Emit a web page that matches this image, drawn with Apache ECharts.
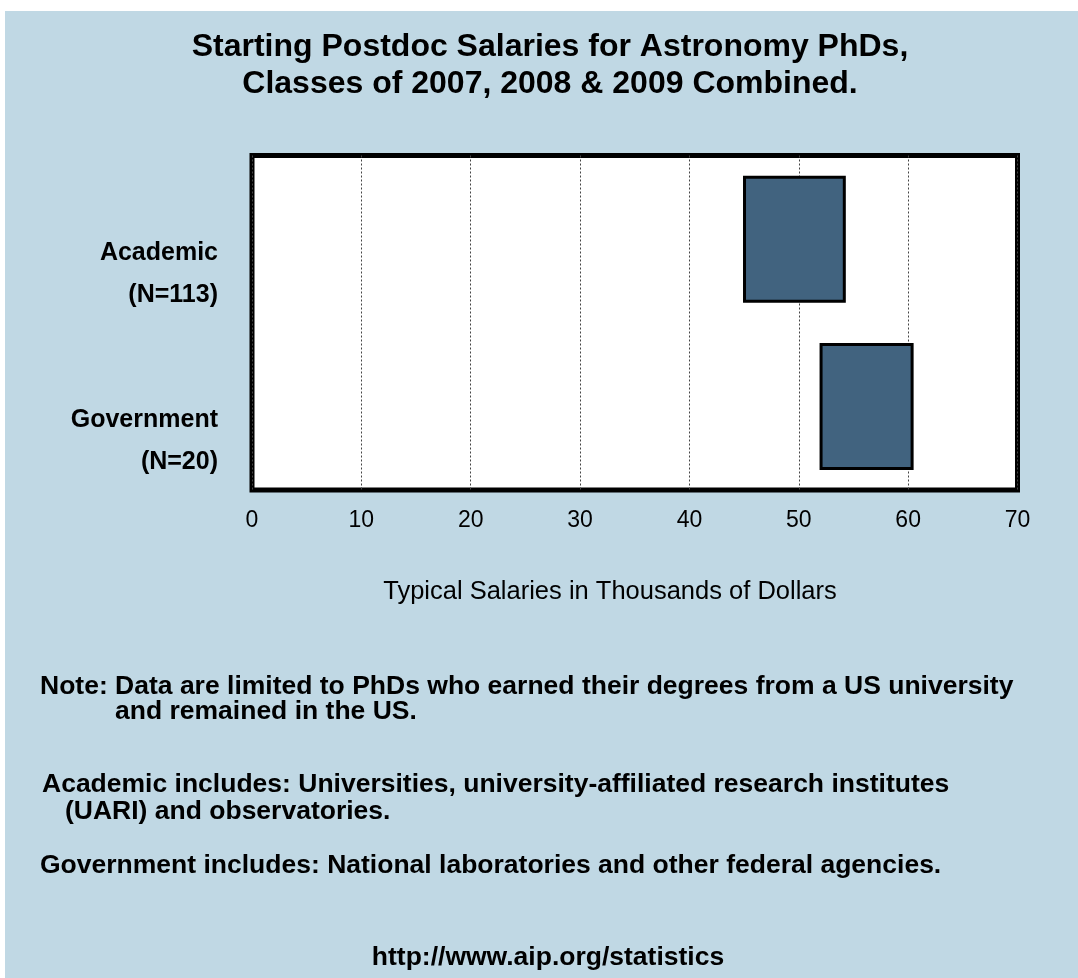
<!doctype html>
<html lang="en">
<head>
    <meta charset="utf-8">
    <title>Starting Postdoc Salaries for Astronomy PhDs</title>
    <style>
        html, body {margin: 0; padding: 0; background: #fff;}
        #chart {position: absolute; left: 5px; top: 11px; width: 1073px; height: 967px;}
    </style>
</head>
<body>
<div id="chart"></div>

<script src="https://cdn.jsdelivr.net/npm/echarts@6/dist/echarts.min.js"></script>
<script>
    // data (thousands of dollars)
    const categories = ['Academic', 'Government'];
    const counts = [113, 20];
    const lowSalary = [44.9, 51.9];
    const highSalary = [54.3, 60.5];
    const xTicks = [0, 10, 20, 30, 40, 50, 60, 70];

    const spanSalary = highSalary.map((h, i) => +(h - lowSalary[i]).toFixed(1));

    const font = 'Liberation Sans, Arial, sans-serif';
    const chart = echarts.init(document.getElementById('chart'));

    chart.setOption({
        backgroundColor: '#c0d8e4',
        textStyle: {fontFamily: font, color: '#000'},
        animation: false,
        grid: {
            left: 247, top: 144.5, right: 60.5, bottom: 488,
            show: true, backgroundColor: '#fff',
            borderColor: '#000', borderWidth: 5
        },
        xAxis: {
            type: 'value',
            min: xTicks[0], max: xTicks[xTicks.length - 1], interval: 10,
            axisLine: {show: false},
            axisTick: {show: false},
            axisLabel: {fontSize: 23, color: '#000', margin: 19, fontFamily: font},
            splitLine: {lineStyle: {type: [2, 2], color: '#444', width: 1}}
        },
        yAxis: {
            type: 'category',
            inverse: true,
            data: categories,
            axisLine: {show: false},
            axisTick: {show: false},
            splitLine: {show: false},
            axisLabel: {
                formatter: (v, i) => '{s| }\n{b|' + v + '}\n{b|(N=' + counts[i] + ')}',
                align: 'right', margin: 34,
                rich: {
                    s: {lineHeight: 70, fontSize: 10},
                    b: {fontSize: 25, fontWeight: 'bold', color: '#000', fontFamily: font, lineHeight: 42, align: 'right'}
                }
            }
        },
        series: [
            {
                name: 'base', type: 'bar', stack: 'range',
                data: lowSalary, barWidth: 127,
                itemStyle: {color: 'transparent'},
                silent: true
            },
            {
                name: 'range', type: 'bar', stack: 'range',
                data: spanSalary, barWidth: 127,
                itemStyle: {color: '#41637f', borderColor: '#000', borderWidth: 3}
            }
        ],
        graphic: [
            {type: 'text', x: 545, y: 55, style: {text: 'Starting Postdoc Salaries for Astronomy PhDs,\nClasses of 2007, 2008 & 2009 Combined.', font: 'bold 32px ' + font, lineHeight: 37, fill: '#000', align: 'center', verticalAlign: 'middle'}},
            {type: 'text', x: 605, y: 581, style: {text: 'Typical Salaries in Thousands of Dollars', font: '25.5px ' + font, fill: '#000', align: 'center', verticalAlign: 'middle'}},
            {type: 'text', x: 35, y: 676, style: {text: 'Note: Data are limited to PhDs who earned their degrees from a US university', font: 'bold 26.5px ' + font, fill: '#000', verticalAlign: 'middle'}},
            {type: 'text', x: 110, y: 701, style: {text: 'and remained in the US.', font: 'bold 26.5px ' + font, fill: '#000', verticalAlign: 'middle'}},
            {type: 'text', x: 37, y: 774, style: {text: 'Academic includes: Universities, university-affiliated research institutes', font: 'bold 26.5px ' + font, fill: '#000', verticalAlign: 'middle'}},
            {type: 'text', x: 60, y: 801, style: {text: '(UARI) and observatories.', font: 'bold 26.5px ' + font, fill: '#000', verticalAlign: 'middle'}},
            {type: 'text', x: 35, y: 855, style: {text: 'Government includes: National laboratories and other federal agencies.', font: 'bold 26.5px ' + font, fill: '#000', verticalAlign: 'middle'}},
            {type: 'text', x: 543, y: 947, style: {text: 'http://www.aip.org/statistics', font: 'bold 26.5px ' + font, fill: '#000', align: 'center', verticalAlign: 'middle'}}
        ]
    });

    window.onresize = function () {
        chart.resize();
    };
</script>
</body>
</html>
